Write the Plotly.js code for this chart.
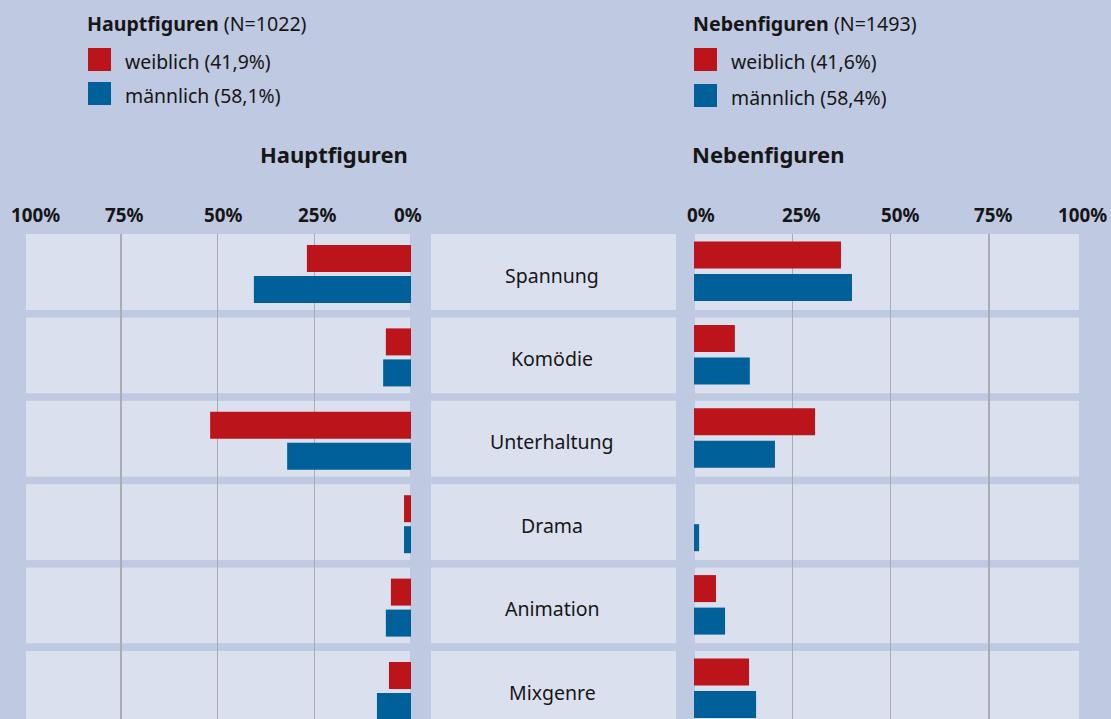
<!DOCTYPE html>
<html>
<head>
<meta charset="utf-8">
<script src="https://cdn.plot.ly/plotly-3.0.1.min.js"></script>
<style>html,body{margin:0;padding:0;background:#bfc9e2;}#chart{width:1111px;height:719px;}</style>
</head>
<body>
<div id="chart"></div>
<script>
// ---- data ----
const categories = ['Spannung', 'Komödie', 'Unterhaltung', 'Drama', 'Animation', 'Mixgenre'];
const hauptWeiblich = [26.9, 6.5, 51.9, 1.8, 5.2, 5.7];
const hauptMaennlich = [40.6, 7.2, 32.0, 1.8, 6.5, 8.8];
const nebenWeiblich = [37.4, 10.4, 30.8, 0, 5.6, 14.0];
const nebenMaennlich = [40.2, 14.2, 20.6, 1.3, 7.9, 15.8];
const tickValues = [0, 25, 50, 75, 100];
const tickLabels = ['0%', '25%', '50%', '75%', '100%'];
const panelTitles = ['Hauptfiguren', 'Nebenfiguren'];
const panelN = ['N=1022', 'N=1493'];
const seriesNames = ['weiblich', 'männlich'];
const hauptShares = ['41,9%', '58,1%'];
const nebenShares = ['41,6%', '58,4%'];

// ---- styling ----
const W = 1111, H = 719;
const BG = '#bfc9e2', BAND = '#dbe0ee', RED = '#bb141a', BLUE = '#00619a', GRID = '#a9acb5', TXT = '#161616';
const FONT = 'Noto Sans, Open Sans, sans-serif';
const px = v => v / W;
const py = v => 1 - v / H;

const rowPx = 83.4, row0 = 272, bandHalf = 38;
const yTop = -(row0 - 234) / rowPx;
const yBot = (H - row0) / rowPx;
const barW = 27 / rowPx;

function barTrace(x, name, color, xaxis, offPx) {
  return {
    type: 'bar', orientation: 'h', y: categories, x: x, name: name,
    xaxis: xaxis, yaxis: 'y', marker: {color: color, line: {width: 0}},
    width: barW, offset: offPx / rowPx, showlegend: false, hoverinfo: 'x+y'
  };
}

const data = [
  barTrace(hauptWeiblich, seriesNames[0], RED, 'x', -27),
  barTrace(hauptMaennlich, seriesNames[1], BLUE, 'x', 4),
  barTrace(nebenWeiblich, seriesNames[0], RED, 'x2', -30.5),
  barTrace(nebenMaennlich, seriesNames[1], BLUE, 'x2', 2)
];

const shapes = [];
const annotations = [];
categories.forEach((c, i) => {
  [[26, 410], [431, 676], [695, 1079]].forEach(([a, b]) => {
    shapes.push({type: 'rect', layer: 'below', xref: 'paper', yref: 'y',
      x0: px(a), x1: px(b), y0: i - bandHalf / rowPx, y1: i + bandHalf / rowPx,
      fillcolor: BAND, line: {width: 0}});
  });
  // gap strip covering gridlines between bands
  shapes.push({type: 'rect', layer: 'between', xref: 'paper', yref: 'y',
    x0: 0, x1: 1, y0: i + bandHalf / rowPx, y1: i + 1 - bandHalf / rowPx,
    fillcolor: BG, line: {width: 0}});
  annotations.push({xref: 'paper', yref: 'y', x: px(552), y: i, yshift: -3,
    text: c, showarrow: false, xanchor: 'center', yanchor: 'middle',
    font: {family: FONT, size: 19.5, color: TXT}});
});

// tick labels placed through the axes
const leftShift = [-3, 3, 5, 3, 11];
const rightShift = [7, 9, 9, 4, -5];
tickValues.forEach((v, k) => {
  annotations.push({xref: 'x', yref: 'paper', x: v, y: py(215), xshift: leftShift[k],
    text: '<b>' + tickLabels[k] + '</b>', showarrow: false, xanchor: 'center', yanchor: 'middle',
    font: {family: FONT, size: 18.8, color: TXT}});
  annotations.push({xref: 'x2', yref: 'paper', x: v, y: py(215), xshift: rightShift[k],
    text: '<b>' + tickLabels[k] + '</b>', showarrow: false, xanchor: 'center', yanchor: 'middle',
    font: {family: FONT, size: 18.8, color: TXT}});
});

// panel titles
annotations.push({xref: 'paper', yref: 'paper', x: px(334), y: py(154), text: '<b>' + panelTitles[0] + '</b>',
  showarrow: false, xanchor: 'center', yanchor: 'middle', font: {family: FONT, size: 22, color: TXT}});
annotations.push({xref: 'paper', yref: 'paper', x: px(768), y: py(154), text: '<b>' + panelTitles[1] + '</b>',
  showarrow: false, xanchor: 'center', yanchor: 'middle', font: {family: FONT, size: 22, color: TXT}});

// legends
function legendBlock(x0, title, n, shares, sqY) {
  annotations.push({xref: 'paper', yref: 'paper', x: px(x0 - 3), y: py(23), xanchor: 'left', yanchor: 'middle',
    text: '<b>' + title + '</b> (' + n + ')', showarrow: false, font: {family: FONT, size: 19.6, color: TXT}});
  [RED, BLUE].forEach((col, k) => {
    shapes.push({type: 'rect', xref: 'paper', yref: 'paper', x0: px(x0), x1: px(x0 + 23),
      y0: py(sqY[k]), y1: py(sqY[k] + 23), fillcolor: col, line: {width: 0}});
    annotations.push({xref: 'paper', yref: 'paper', x: px(x0 + 35), y: py(sqY[k] + 13), xanchor: 'left', yanchor: 'middle',
      text: seriesNames[k] + ' (' + shares[k] + ')', showarrow: false, font: {family: FONT, size: 19.4, color: TXT}});
  });
}
legendBlock(88, panelTitles[0], panelN[0], hauptShares, [48, 82]);
legendBlock(694, panelTitles[1], panelN[1], nebenShares, [48, 84]);

const axisCommon = {tickvals: [25, 50, 75], showticklabels: false, showgrid: true, gridcolor: GRID, gridwidth: 1.5,
  zeroline: false, showline: false, ticks: '', fixedrange: true};

const layout = {
  width: W, height: H,
  margin: {l: 0, r: 0, t: 0, b: 0, pad: 0},
  paper_bgcolor: BG, plot_bgcolor: 'rgba(0,0,0,0)',
  barmode: 'overlay', showlegend: false,
  font: {family: FONT, color: TXT},
  xaxis: Object.assign({}, axisCommon, {domain: [px(24), px(411)], range: [100, 0], anchor: 'y'}),
  xaxis2: Object.assign({}, axisCommon, {domain: [px(694), px(1087)], range: [0, 100], anchor: 'y'}),
  yaxis: {type: 'category', domain: [0, py(234)], range: [yBot, yTop], visible: false, showgrid: false, fixedrange: true},
  shapes: shapes,
  annotations: annotations
};

Plotly.newPlot('chart', data, layout, {displayModeBar: false, staticPlot: true});
</script>
</body>
</html>
